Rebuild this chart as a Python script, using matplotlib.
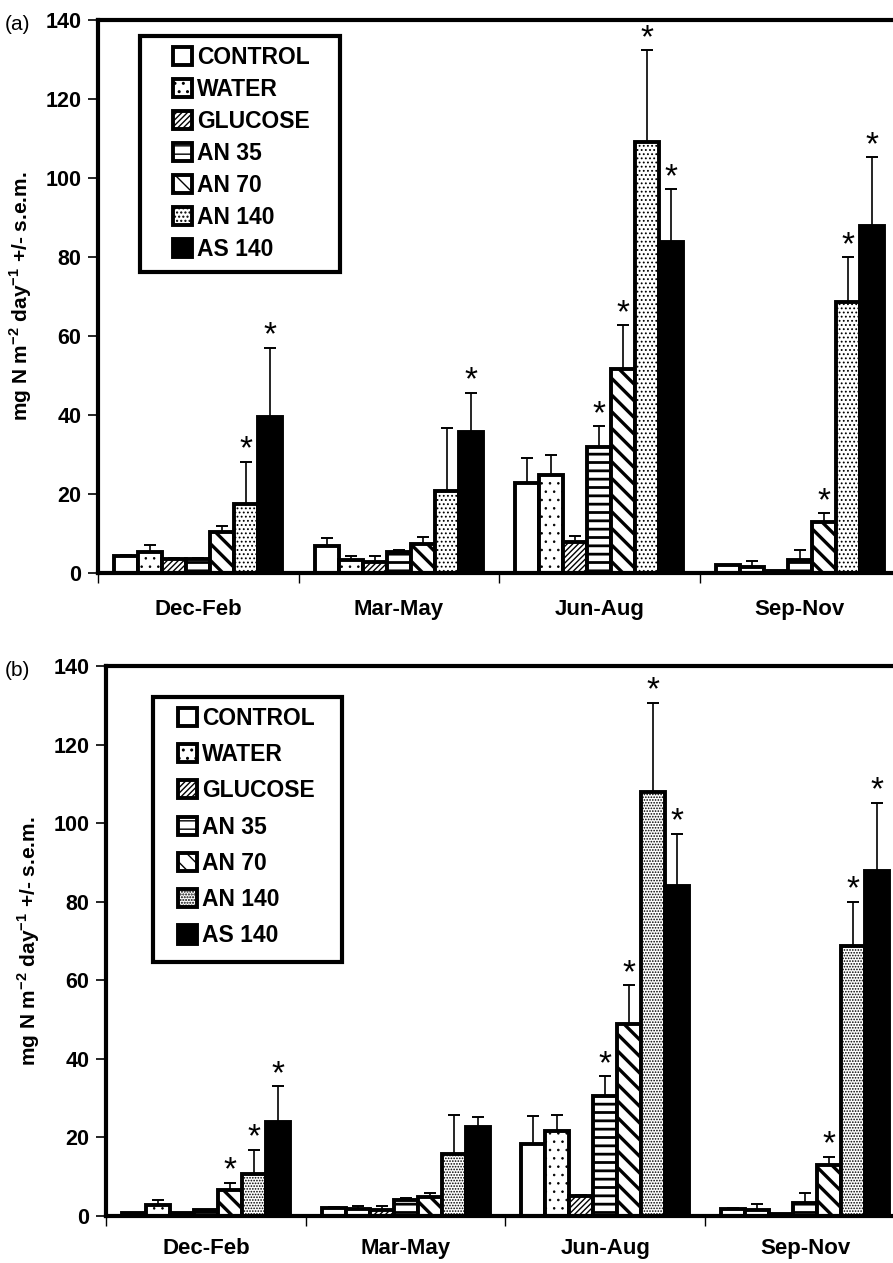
import numpy as np
import matplotlib
matplotlib.use('Agg')
import matplotlib.pyplot as plt
from matplotlib.patches import Rectangle

plt.rcParams['font.family'] = ['Liberation Sans', 'DejaVu Sans']
plt.rcParams['font.weight'] = 'bold'
plt.rcParams['mathtext.fontset'] = 'custom'
plt.rcParams['mathtext.rm'] = 'Liberation Sans:bold'
plt.rcParams['mathtext.bf'] = 'Liberation Sans:bold'

seasons = ['Dec-Feb', 'Mar-May', 'Jun-Aug', 'Sep-Nov']
treatments = ['CONTROL', 'WATER', 'GLUCOSE', 'AN 35', 'AN 70', 'AN 140', 'AS 140']

# panel (a): mean per treatment (rows) and season (columns), plus s.e.m.
mean_a = [
    [4.2, 6.9, 22.8, 1.9],
    [5.4, 3.3, 24.9, 1.6],
    [3.5, 2.9, 7.9, 0.4],
    [3.6, 5.4, 31.9, 3.4],
    [10.4, 7.4, 51.6, 12.9],
    [17.5, 20.7, 109.0, 68.7],
    [39.6, 35.6, 83.8, 87.8],
]
sem_a = [
    [0.3, 2.0, 6.2, 0.2],
    [1.6, 1.1, 5.0, 1.5],
    [0.3, 1.3, 1.5, 0.0],
    [0.2, 0.4, 5.3, 2.4],
    [1.6, 1.7, 11.1, 2.2],
    [10.7, 15.9, 23.4, 11.3],
    [17.4, 10.0, 13.4, 17.4],
]
star_a = [
    [0, 0, 0, 0],
    [0, 0, 0, 0],
    [0, 0, 0, 0],
    [0, 0, 1, 0],
    [0, 0, 1, 1],
    [1, 0, 1, 1],
    [1, 1, 1, 1],
]

# panel (b)
mean_b = [
    [0.8, 2.0, 18.3, 1.9],
    [2.8, 1.9, 21.7, 1.6],
    [0.8, 1.5, 5.0, 0.4],
    [1.6, 4.0, 30.6, 3.4],
    [6.6, 4.9, 49.0, 13.1],
    [10.8, 15.9, 107.9, 68.7],
    [24.0, 22.7, 83.9, 87.9],
]
sem_b = [
    [0.0, 0.2, 7.2, 0.2],
    [1.4, 0.7, 3.9, 1.5],
    [0.0, 1.0, 0.3, 0.0],
    [0.0, 0.5, 5.0, 2.4],
    [1.9, 1.0, 9.7, 2.0],
    [6.1, 9.9, 22.8, 11.3],
    [9.0, 2.6, 13.4, 17.3],
]
star_b = [
    [0, 0, 0, 0],
    [0, 0, 0, 0],
    [0, 0, 0, 0],
    [0, 0, 1, 0],
    [1, 0, 1, 1],
    [1, 0, 1, 1],
    [1, 0, 1, 1],
]

# fill / hatch / hatch linewidth for each treatment
faces = ['white', 'white', 'white', 'white', 'white', 'white', 'black']
hatches = [None, '..', '//////', '--', '\\\\', '....', None]
hatch_lw = [1.0, 0.6, 1.0, 2.0, 2.4, 0.8, 1.0]

W = 0.12
ylabel = r'mg N m$^{-2}$ day$^{-1}$ +/- s.e.m.'


def panel(ax, means, sems, stars, an140_hatch, box, leg_anchor, leg_space, xpad):
    x0 = np.arange(len(seasons)) + 0.5
    handles = []
    for i, name in enumerate(treatments):
        x = x0 + (i - 3) * W
        h = hatches[i]
        if i == 5:
            h = an140_hatch
        with plt.rc_context({'hatch.linewidth': hatch_lw[i]}):
            bars = ax.bar(x, means[i], W, facecolor=faces[i], edgecolor='black',
                          hatch=h, linewidth=2.8, zorder=2, label=name)
        for p in bars:
            if hasattr(p, 'set_hatch_linewidth'):
                p.set_hatch_linewidth(hatch_lw[i])
        handles.append(bars)
        m = np.array(means[i])
        s = np.array(sems[i])
        keep = s > 0
        ax.errorbar(x[keep], m[keep], yerr=[np.zeros(keep.sum()), s[keep]],
                    fmt='none', ecolor='black', elinewidth=1.2, capsize=4,
                    capthick=1.4, zorder=3)
        for j in range(len(seasons)):
            if stars[i][j]:
                ax.text(x[j], m[j] + s[j] + 0.8, '*', ha='center', va='baseline',
                        fontsize=24, fontweight='normal', zorder=4)

    ax.set_xlim(0, 4)
    ax.set_ylim(0, 140)
    ax.set_yticks(np.arange(0, 141, 20))
    ax.set_xticks(x0)
    ax.set_xticklabels(seasons, fontsize=16, fontweight='bold')
    ax.set_xticks(np.arange(0, 5), minor=True)
    ax.tick_params(axis='x', which='major', length=0, pad=xpad)
    ax.tick_params(axis='x', which='minor', length=7, width=1, direction='out')
    ax.tick_params(axis='y', length=7, width=1.2, direction='out', pad=5, labelsize=15.5)
    for lab in ax.get_yticklabels():
        lab.set_fontweight('bold')
    for side in ['left', 'bottom', 'top']:
        ax.spines[side].set_linewidth(3)
    ax.spines['right'].set_visible(False)
    ax.set_ylabel(ylabel, fontsize=15, fontweight='bold', labelpad=8)

    ax.add_patch(Rectangle((box[0], box[1]), box[2], box[3], transform=ax.transAxes,
                           facecolor='white', edgecolor='black', linewidth=3,
                           zorder=5, clip_on=False))
    leg = ax.legend(handles=handles, loc='upper left', bbox_to_anchor=leg_anchor,
                    frameon=False, borderpad=0, borderaxespad=0,
                    handlelength=0.85, handleheight=0.85, handletextpad=0.2,
                    labelspacing=leg_space, prop={'size': 16.5, 'weight': 'bold'})
    leg.set_zorder(6)


fig = plt.figure(figsize=(8.93, 12.63), dpi=100)
ax_a = fig.add_axes([98 / 893, 1 - 573 / 1263, 802 / 893, 553 / 1263])
ax_b = fig.add_axes([106 / 893, 1 - 1216 / 1263, 799 / 893, 550 / 1263])

panel(ax_a, mean_a, sem_a, star_a, '....',
      (0.0524, 0.5443, 0.2494, 0.4268), (0.0935, 0.953), 0.39, 19)
panel(ax_b, mean_b, sem_b, star_b, '......',
      (0.0588, 0.4618, 0.2365, 0.4818), (0.090, 0.926), 0.58, 16)

fig.text(5 / 893, 1 - 25 / 1263, '(a)', fontsize=15, fontweight='normal', va='center')
fig.text(5 / 893, 1 - 670 / 1263, '(b)', fontsize=15, fontweight='normal', va='center')

fig.savefig('out.png', dpi=100)
